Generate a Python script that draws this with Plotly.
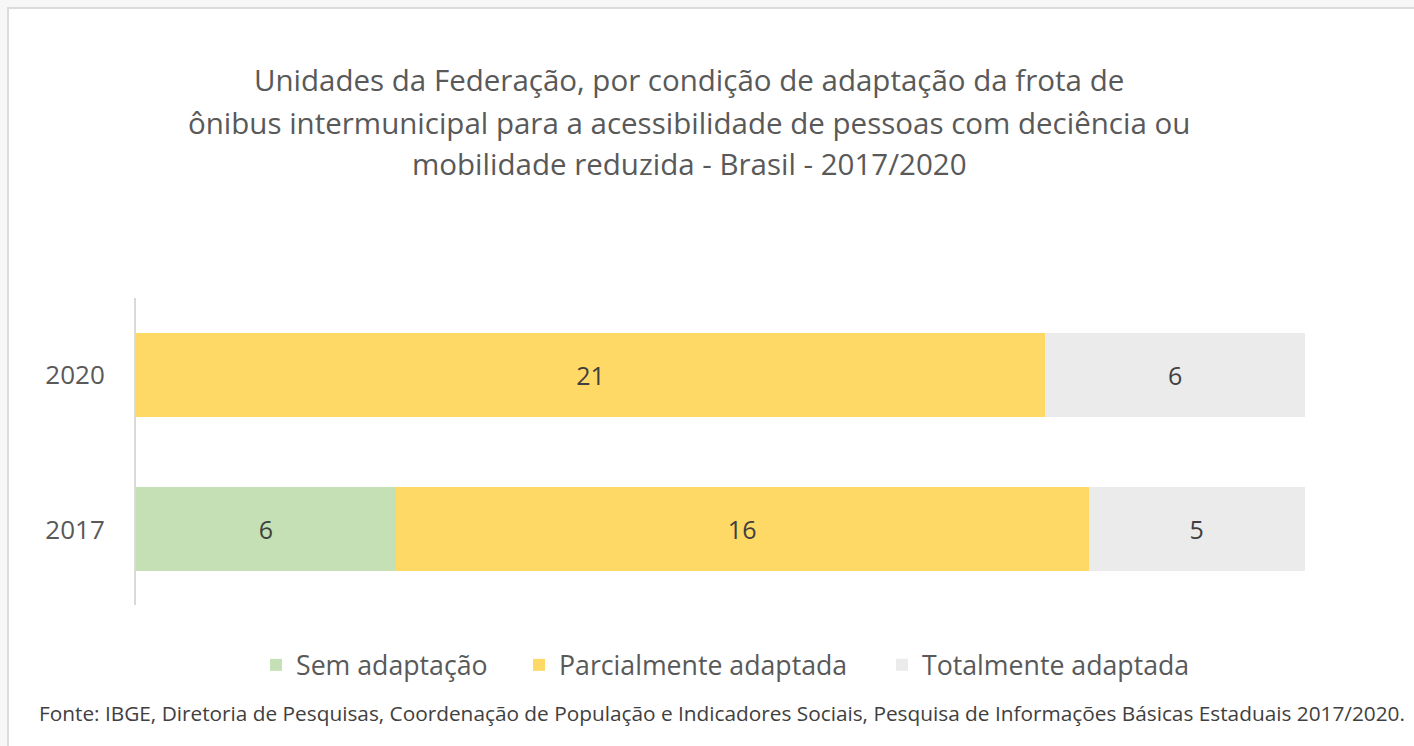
import plotly.graph_objects as go

years = ["2017", "2020"]
series_names = ["Sem adaptação", "Parcialmente adaptada", "Totalmente adaptada"]
sem_adaptacao = [6, 0]
parcialmente = [16, 21]
totalmente = [5, 6]
colors = ["#c5e0b4", "#ffd966", "#ebebeb"]

title_lines = [
    "Unidades da Federação, por condição de adaptação da frota de",
    "ônibus intermunicipal para a acessibilidade de pessoas com deciência ou",
    "mobilidade reduzida - Brasil - 2017/2020",
]
source = ("Fonte: IBGE, Diretoria de Pesquisas, Coordenação de População e Indicadores Sociais, "
          "Pesquisa de Informações Básicas Estaduais 2017/2020.")

FONT = "Open Sans"
W, H = 1414, 746
L, R, T, B = 136, 109, 298, 141
pw, ph = W - L - R, H - T - B

def px_x(px):
    return (px - L) / pw

def px_y(py):
    return (H - B - py) / ph

legend_ids = ["legend", "legend2", "legend3"]
legend_left_px = [256, 519, 882]

fig = go.Figure()
for name, vals, col, lg in zip(series_names, [sem_adaptacao, parcialmente, totalmente], colors, legend_ids):
    fig.add_trace(go.Bar(
        y=years, x=vals, name=name, orientation="h", legend=lg,
        marker=dict(color=col, line=dict(width=0)),
        text=[str(v) if v else "" for v in vals],
        textposition="inside", insidetextanchor="middle",
        textfont=dict(family=FONT, size=25, color="#404040"),
    ))

legend_common = dict(orientation="h", yanchor="middle", xanchor="left",
                     font=dict(family=FONT, size=26.7, color="#595959"),
                     bgcolor="rgba(0,0,0,0)", itemwidth=30, borderwidth=0)

fig.update_layout(
    width=W, height=H,
    barmode="stack", bargap=0.455,
    margin=dict(l=L, r=R, t=T, b=B),
    paper_bgcolor="#f7f7f7", plot_bgcolor="rgba(0,0,0,0)",
    showlegend=True,
    xaxis=dict(range=[0, 27], showticklabels=False, showgrid=False, zeroline=False,
               showline=False, fixedrange=True),
    yaxis=dict(range=[-0.49, 1.5], showgrid=False, zeroline=False, showline=True,
               linecolor="#d9d9d9", linewidth=2, ticks="", ticklabelstandoff=24,
               tickfont=dict(family=FONT, size=26, color="#595959")),
    uniformtext=dict(mode="show", minsize=10),
)
for lg, lx in zip(legend_ids, legend_left_px):
    fig.update_layout({lg: dict(legend_common, x=px_x(lx), y=px_y(665))})

fig.add_shape(type="rect", xref="paper", yref="paper",
              x0=px_x(8), x1=px_x(1425), y0=px_y(8), y1=px_y(760),
              fillcolor="white", line=dict(color="#dcdcdc", width=2), layer="below")

title_y = [80, 122, 163]
for line, yy in zip(title_lines, title_y):
    fig.add_annotation(text=line, xref="paper", yref="paper", x=px_x(689), y=px_y(yy),
                       xanchor="center", yanchor="middle", showarrow=False,
                       font=dict(family=FONT, size=29.5, color="#595959"))

fig.add_annotation(text=source, xref="paper", yref="paper", x=px_x(722), y=px_y(713),
                   xanchor="center", yanchor="middle", showarrow=False,
                   font=dict(family=FONT, size=20.8, color="#404040"))

fig.write_html("out.html", config={"displayModeBar": False},
               post_script="document.body.style.margin='0';")
